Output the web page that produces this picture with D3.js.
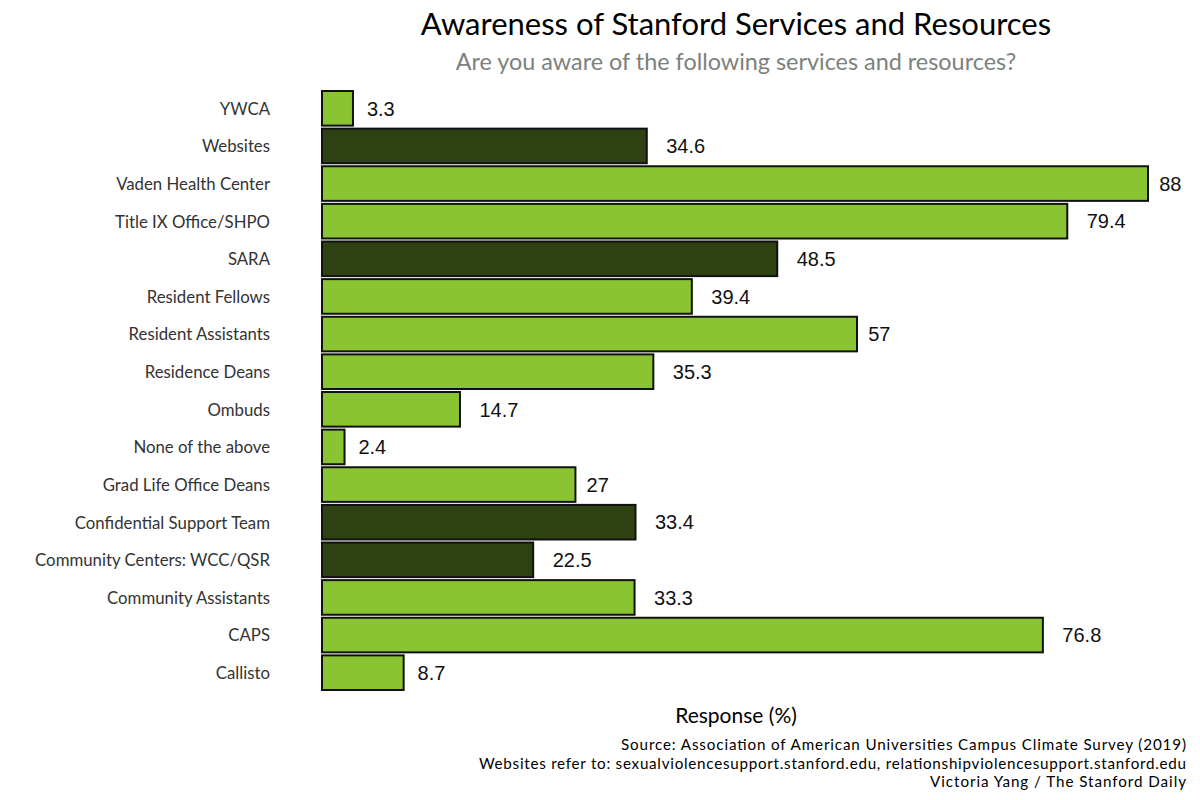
<!DOCTYPE html>
<html><head><meta charset="utf-8">
<script src="https://cdn.jsdelivr.net/npm/d3@7"></script>
<style>body{margin:0;background:#fff}</style>
</head><body>
<svg id="c" width="1200" height="800"></svg>
<script>
const categories = ["YWCA","Websites","Vaden Health Center","Title IX Office/SHPO","SARA","Resident Fellows","Resident Assistants","Residence Deans","Ombuds","None of the above","Grad Life Office Deans","Confidential Support Team","Community Centers: WCC/QSR","Community Assistants","CAPS","Callisto"];
const values = [3.3,34.6,88,79.4,48.5,39.4,57,35.3,14.7,2.4,27,33.4,22.5,33.3,76.8,8.7];
const groups = ["other","web","other","other","web","other","other","other","other","other","other","web","web","other","other","other"];
const title = "Awareness of Stanford Services and Resources";
const subtitle = "Are you aware of the following services and resources?";
const xTitle = "Response (%)";
const captions = ["Source: Association of American Universities Campus Climate Survey (2019)","Websites refer to: sexualviolencesupport.stanford.edu, relationshipviolencesupport.stanford.edu","Victoria Yang / The Stanford Daily"];

const font = "Lato, 'Open Sans', sans-serif";
const svg = d3.select("#c");
const x = d3.scaleLinear().domain([0,88]).range([322,1148]);
const y = d3.scaleBand().domain(categories).range([89.5,691.5]).paddingInner(0.08).paddingOuter(0.04);
const color = d3.scaleOrdinal().domain(["other","web"]).range(["#8bc433","#2e4113"]);
const data = categories.map((c,i)=>({c, v:values[i], g:groups[i]}));

svg.append("g").selectAll("rect").data(data).join("rect")
  .attr("x", x(0)).attr("y", d=>y(d.c))
  .attr("width", d=>x(d.v)-x(0)).attr("height", y.bandwidth())
  .attr("fill", d=>color(d.g)).attr("stroke","#111").attr("stroke-width",2);

const lbl = svg.append("g").selectAll("text").data(data).join("text")
  .attr("y", d=>y(d.c)+y.bandwidth()/2).attr("dy","0.36em")
  .attr("font-family","'Liberation Sans', Arial, sans-serif").attr("font-size",20).attr("fill","#111")
  .text(d=>d.v);
lbl.attr("x", function(d){ return x(d.v) + 0.5*this.getComputedTextLength(); });

const yAxis = d3.axisLeft(y).tickSize(0).tickPadding(0);
const ga = svg.append("g").attr("transform","translate(270,1)").call(yAxis);
ga.select(".domain").remove();
ga.selectAll("text").attr("font-family",font).attr("font-size",16.8).attr("fill","#333");

svg.append("text").attr("x",736).attr("y",35).attr("text-anchor","middle")
  .attr("font-family",font).attr("font-size",31).attr("fill","#000").text(title);
svg.append("text").attr("x",736).attr("y",70).attr("text-anchor","middle")
  .attr("font-family",font).attr("font-size",23.4).attr("fill","#7b827b").text(subtitle);
svg.append("text").attr("x",736).attr("y",723).attr("text-anchor","middle")
  .attr("font-family",font).attr("font-size",21).attr("fill","#000").text(xTitle);
const caps = svg.append("g").selectAll("text").data(captions).join("text")
  .attr("x",1186).attr("y",(d,i)=>750+i*18.5).attr("text-anchor","end")
  .attr("font-family",font).attr("font-size",15.2).attr("fill","#000").text(d=>d);
caps.filter((d,i)=>i===1).attr("textLength",707).attr("lengthAdjust","spacing");
caps.filter((d,i)=>i===0).attr("textLength",565).attr("lengthAdjust","spacing");
caps.filter((d,i)=>i===2).attr("textLength",256).attr("lengthAdjust","spacing");
</script>
</body></html>
